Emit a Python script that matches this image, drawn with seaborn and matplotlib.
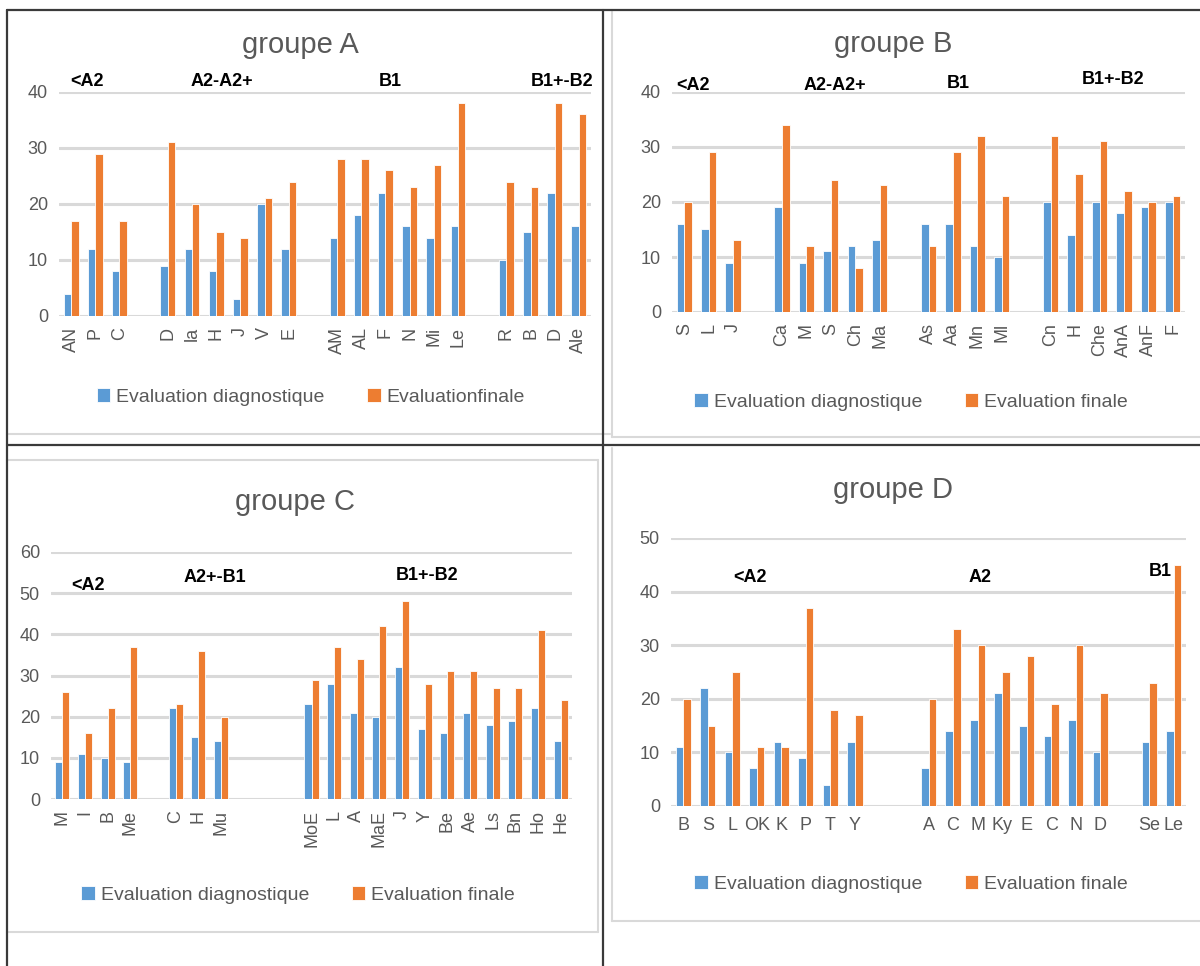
import pandas as pd
import seaborn as sns
import matplotlib.pyplot as plt
from matplotlib.lines import Line2D

W, H = 1200, 966
BLUE = "#5B9BD5"
ORANGE = "#ED7D31"
GREY = "#595959"

# groupe A (empty label = gap between levels)
a_labels = ["AN", "P", "C", "", "D", "la", "H", "J", "V", "E", "",
            "AM", "AL", "F", "N", "Mi", "Le", "", "R", "B", "D", "Ale"]
a_diag = [4, 12, 8, None, 9, 12, 8, 3, 20, 12, None,
          14, 18, 22, 16, 14, 16, None, 10, 15, 22, 16]
a_final = [17, 29, 17, None, 31, 20, 15, 14, 21, 24, None,
           28, 28, 26, 23, 27, 38, None, 24, 23, 38, 36]

# groupe B
b_labels = ["S", "L", "J", "", "Ca", "M", "S", "Ch", "Ma", "",
            "As", "Aa", "Mn", "Ml", "", "Cn", "H", "Che", "AnA", "AnF", "F"]
b_diag = [16, 15, 9, None, 19, 9, 11, 12, 13, None,
          16, 16, 12, 10, None, 20, 14, 20, 18, 19, 20]
b_final = [20, 29, 13, None, 34, 12, 24, 8, 23, None,
           12, 29, 32, 21, None, 32, 25, 31, 22, 20, 21]

# groupe C
c_labels = ["M", "I", "B", "Me", "", "C", "H", "Mu", "", "", "",
            "MoE", "L", "A", "MaE", "J", "Y", "Be", "Ae", "Ls", "Bn", "Ho", "He"]
c_diag = [9, 11, 10, 9, None, 22, 15, 14, None, None, None,
          23, 28, 21, 20, 32, 17, 16, 21, 18, 19, 22, 14]
c_final = [26, 16, 22, 37, None, 23, 36, 20, None, None, None,
           29, 37, 34, 42, 48, 28, 31, 31, 27, 27, 41, 24]

# groupe D
d_labels = ["B", "S", "L", "OK", "K", "P", "T", "Y", "", "",
            "A", "C", "M", "Ky", "E", "C", "N", "D", "", "Se", "Le"]
d_diag = [11, 22, 10, 7, 12, 9, 4, 12, None, None,
          7, 14, 16, 21, 15, 13, 16, 10, None, 12, 14]
d_final = [20, 15, 25, 11, 11, 37, 18, 17, None, None,
           20, 33, 30, 25, 28, 19, 30, 21, None, 23, 45]

sns.set_style("white")
plt.rcParams["font.family"] = ["Liberation Sans", "DejaVu Sans"]

fig = plt.figure(figsize=(12, 9.66), dpi=100)


def fx(x):
    return x / W


def fy(y):
    return 1 - y / H


def panel(box, labels, diag, final, ymax, rotate):
    left, top, right, bottom = box
    ax = fig.add_axes([fx(left), fy(bottom), (right - left) / W, (bottom - top) / H])
    rows = []
    for i, (d, f) in enumerate(zip(diag, final)):
        if d is not None:
            rows.append({"slot": i, "value": d, "serie": "diag"})
        if f is not None:
            rows.append({"slot": i, "value": f, "serie": "final"})
    df = pd.DataFrame(rows)
    n = len(labels)
    sns.barplot(data=df, x="slot", y="value", hue="serie", order=list(range(n)),
                hue_order=["diag", "final"], palette=[BLUE, ORANGE], saturation=1,
                width=0.62, edgecolor="white", linewidth=0.6, ax=ax)
    ax.get_legend().remove()
    ax.set_xlim(-0.5, n - 0.5)
    ax.set_ylim(0, ymax)
    ax.set_yticks(range(0, ymax + 1, 10))
    ax.set_xticks(range(n))
    ax.set_xticklabels(labels, rotation=90 if rotate else 0)
    ax.set_xlabel("")
    ax.set_ylabel("")
    ax.yaxis.grid(True, color="#D9D9D9", lw=2.2)
    ax.set_axisbelow(True)
    sns.despine(ax=ax, left=True, bottom=True)
    ax.tick_params(length=0, labelsize=13, colors=GREY, pad=8)
    ax.patch.set_alpha(0)
    return ax


def legend(ax, x, y, final_label):
    handles, _ = ax.get_legend_handles_labels()
    fig.legend(handles, ["Evaluation diagnostique", final_label], loc="center",
               bbox_to_anchor=(fx(x), fy(y)), ncol=2, frameon=False, fontsize=14,
               labelcolor=GREY, handlelength=0.7, handleheight=0.7,
               handletextpad=0.3, columnspacing=2.2)


def title(x, y, s):
    fig.text(fx(x), fy(y), s, ha="center", va="center", fontsize=21, color=GREY)


def level(x, y, s):
    fig.text(fx(x), fy(y), s, ha="center", va="center", fontsize=13,
             fontweight="bold", color="black")


ax_a = panel((59, 92, 591, 316), a_labels, a_diag, a_final, 40, True)
title(300, 45, "groupe A")
for x, y, s in [(87, 82, "<A2"), (222, 82, "A2-A2+"), (390, 82, "B1"), (562, 82, "B1+-B2")]:
    level(x, y, s)
legend(ax_a, 311, 397, "Evaluationfinale")

ax_b = panel((672, 92, 1185, 312), b_labels, b_diag, b_final, 40, True)
title(893, 44, "groupe B")
for x, y, s in [(693, 85, "<A2"), (835, 85, "A2-A2+"), (958, 83, "B1"), (1113, 79, "B1+-B2")]:
    level(x, y, s)
legend(ax_b, 911, 402, "Evaluation finale")

ax_c = panel((51, 552, 572, 799), c_labels, c_diag, c_final, 60, True)
title(295, 502, "groupe C")
for x, y, s in [(88, 586, "<A2"), (215, 578, "A2+-B1"), (427, 576, "B1+-B2")]:
    level(x, y, s)
legend(ax_c, 298, 895, "Evaluation finale")

ax_d = panel((671, 538, 1186, 806), d_labels, d_diag, d_final, 50, False)
title(893, 490, "groupe D")
for x, y, s in [(750, 578, "<A2"), (980, 578, "A2"), (1160, 572, "B1")]:
    level(x, y, s)
legend(ax_d, 911, 884, "Evaluation finale")


def line(x0, y0, x1, y1, color, lw):
    fig.add_artist(Line2D([fx(x0), fx(x1)], [fy(y0), fy(y1)],
                          transform=fig.transFigure, color=color, lw=lw))


# light screenshot borders
light = "#D9D9D9"
line(7, 434, 610, 434, light, 1.5)
line(612, 10, 612, 437, light, 1.5)
line(612, 437, 1200, 437, light, 1.5)
line(7, 460, 598, 460, light, 1.5)
line(598, 460, 598, 932, light, 1.5)
line(7, 932, 598, 932, light, 1.5)
line(612, 448, 612, 921, light, 1.5)
line(612, 921, 1200, 921, light, 1.5)

# dark table lines
dark = "#3A3A3A"
line(7, 10, 1200, 10, dark, 1.6)
line(7, 10, 7, 966, dark, 1.6)
line(603, 10, 603, 966, dark, 1.6)
line(7, 445, 1200, 445, dark, 1.6)

fig.savefig("out.png", dpi=100, facecolor="white")
